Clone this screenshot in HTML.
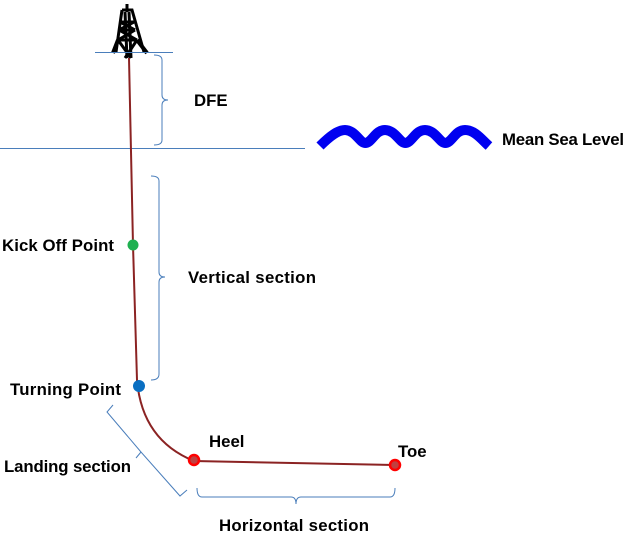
<!DOCTYPE html>
<html><head><style>
body{margin:0;background:#fff;}
svg{display:block;}
text{font-family:"Liberation Sans",sans-serif;font-weight:bold;font-size:16.8px;fill:#000;}
</style></head><body>
<svg width="627" height="536" viewBox="0 0 627 536" xmlns="http://www.w3.org/2000/svg">
<!-- derrick -->
<g stroke="#000" fill="none" stroke-width="3">
<line x1="127" y1="4" x2="127" y2="12"/>
<path d="M122 10 L132 10 L144 52 M122 10 L116 52"/>
<path d="M125 12 L127 58 M129 12 L131 58"/>
<path d="M120 22 L134 22 M119 30 L135 30 M118 40 L137 40"/>
<path d="M120 22 L135 30 M134 22 L119 30 M119 30 L137 40 M135 30 L118 40 M118 40 L131 58 M137 40 L125 58"/>
<path d="M113 53 L118 40 M147 53 L137 40" stroke-width="4"/>
</g>
<line x1="95" y1="52.5" x2="173" y2="52.5" stroke="#4a7ebb" stroke-width="1"/>
<line x1="0" y1="148.5" x2="305" y2="148.5" stroke="#4a7ebb" stroke-width="1"/>
<path d="M129 58 L133 245 L137 380 Q142 440 194 461 L395 465" stroke="#8b2323" stroke-width="2" fill="none"/>
<g stroke="#4a7ebb" stroke-width="1" fill="none">
<path d="M154 55 Q162 55 162 60 L162 95 Q162 100 168 100 Q162 100 162 105 L162 140 Q162 145 154 145"/>
<path d="M151 176 Q159 176 159 181 L159 272 Q159 277 165 277 Q159 277 159 282 L159 374 Q159 380 151 380"/>
<path d="M197 488 Q197 497 202 497 L291 497 Q296 497 296 504 Q296 497 301 497 L390 497 Q395 497 395 488"/>
<path d="M113 405 L107 412 L141 452 L136 458 L141 452 L180 496 L187 490"/>
</g>
<path d="M320 146 C330 136 338 130 345 130 C355 130 360 143 365 143 C372 143 375 130 385 130 C395 130 400 143 405 143 C412 143 415 130 425 130 C435 130 440 143 445 143 C452 143 455 130 465 130 C475 130 482 140 489 146" stroke="#0000f0" stroke-width="10" fill="none"/>
<circle cx="133" cy="245" r="5.5" fill="#1fb050"/>
<circle cx="139" cy="386" r="6" fill="#0a6fc2"/>
<circle cx="194" cy="460" r="5" fill="#c04040" stroke="#ff0000" stroke-width="2.5"/>
<circle cx="395" cy="465" r="5" fill="#c04040" stroke="#ff0000" stroke-width="2.5"/>
<text x="194" y="106">DFE</text>
<text x="502" y="145" textLength="122">Mean Sea Level</text>
<text x="2" y="251" textLength="112">Kick Off Point</text>
<text x="188" y="283" textLength="128">Vertical section</text>
<text x="10" y="395" textLength="111">Turning Point</text>
<text x="209" y="447">Heel</text>
<text x="398" y="457">Toe</text>
<text x="4" y="472" textLength="127">Landing section</text>
<text x="219" y="531" textLength="150">Horizontal section</text>
</svg>
</body></html>
